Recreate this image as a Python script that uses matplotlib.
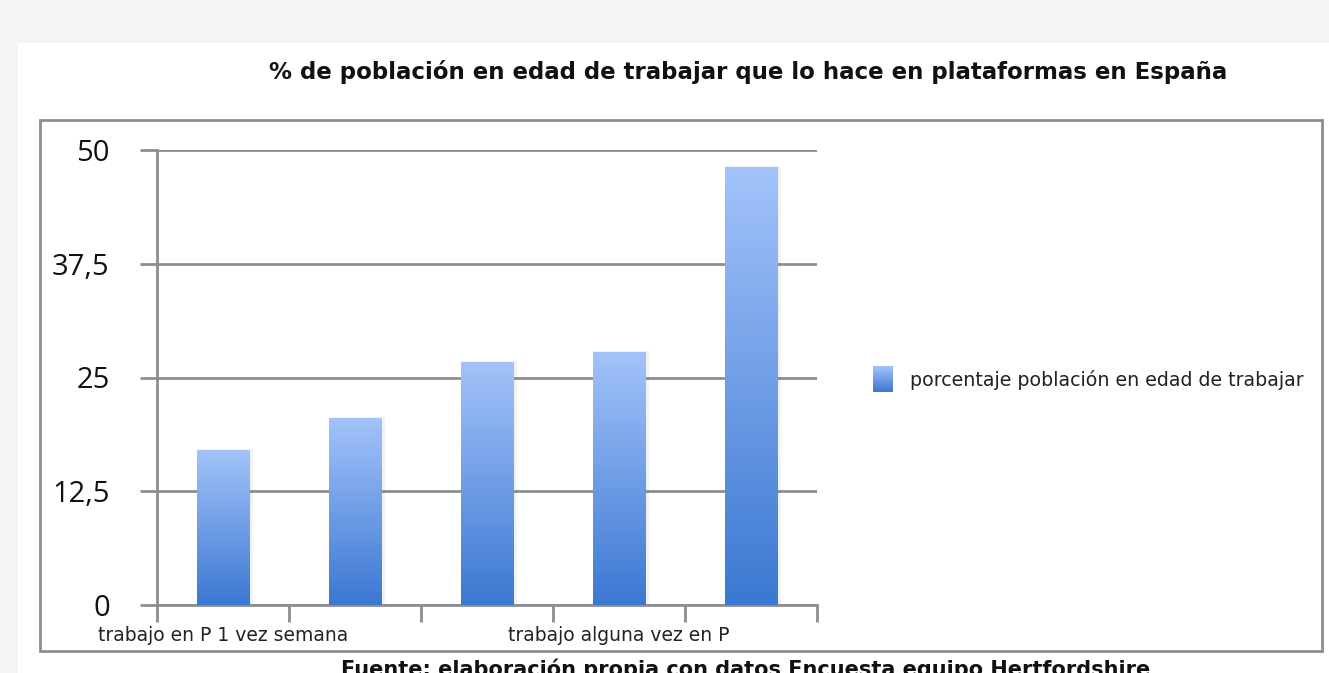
import matplotlib

matplotlib.use("Agg")
import matplotlib.pyplot as plt
import numpy as np
from matplotlib.colors import LinearSegmentedColormap
from matplotlib.patches import Rectangle

W, H = 1329, 673

categories = ["trabajo en P 1 vez semana", "", "", "trabajo alguna vez en P", ""]
values = [17.0, 20.5, 26.7, 27.8, 48.1]
yticks = [0, 12.5, 25, 37.5, 50]
ytick_labels = ["0", "12,5", "25", "37,5", "50"]
series_name = "porcentaje población en edad de trabajar"
title = "% de población en edad de trabajar que lo hace en plataformas en España"
source = "Fuente: elaboración propia con datos Encuesta equipo Hertfordshire"

GRID = "#8e8e8e"
grad = LinearSegmentedColormap.from_list("bar", ["#3b78d2", "#a3c3fa"])


def px(x, y):
    """pixel (from top-left) -> figure fraction"""
    return x / W, 1 - y / H


fig = plt.figure(figsize=(W / 100, H / 100), dpi=100, facecolor="#f4f4f4")

# white panel + chart frame (behind the axes)
fig.patches.append(Rectangle(px(18, 673), (W - 18) / W, (673 - 43) / H,
                             transform=fig.transFigure, facecolor="white",
                             edgecolor="none", zorder=-2))
fig.patches.append(Rectangle(px(40, 651), (1322 - 40) / W, (651 - 120) / H,
                             transform=fig.transFigure, facecolor="none",
                             edgecolor=GRID, lw=2.0, zorder=-1))

l, b = px(157, 605)
ax = fig.add_axes([l, b, (817 - 157) / W, (605 - 150) / H])
ax.set_facecolor("none")
ax.set_zorder(1)

x = np.arange(len(values))
bars = ax.bar(x, values, width=0.4, color="none", zorder=3)
gimg = np.linspace(0, 1, 256).reshape(-1, 1)
for bar in bars:
    x0, y0 = bar.get_x(), bar.get_y()
    w, h = bar.get_width(), bar.get_height()
    # soft shadow
    ax.add_patch(Rectangle((x0 + 0.005, y0), w + 0.02, h + 0.15,
                           facecolor="#000000", alpha=0.05, lw=0, zorder=2))
    ax.imshow(gimg, extent=(x0, x0 + w, y0, y0 + h), origin="lower",
              cmap=grad, aspect="auto", zorder=3)

ax.set_xlim(-0.5, len(values) - 0.5)
ax.set_ylim(0, 50)

ax.set_yticks(yticks)
ax.set_yticklabels(ytick_labels, fontsize=21, family="Open Sans", color="#111111")
ax.grid(axis="y", color=GRID, lw=2.0, zorder=1)
ax.set_axisbelow(True)
ax.tick_params(axis="y", length=12, width=2.0, color=GRID, pad=22)

ax.set_xticks(np.arange(len(values) + 1) - 0.5)
ax.set_xticklabels([])
ax.tick_params(axis="x", length=12, width=2.0, color=GRID)
for i, lab in enumerate(categories):
    if lab:
        ax.text(i, -3.4, lab, ha="center", va="center", fontsize=13.5,
                color="#222222")

for s in ("top", "right"):
    ax.spines[s].set_visible(False)
for s in ("left", "bottom"):
    ax.spines[s].set_color(GRID)
    ax.spines[s].set_linewidth(2.0)

# legend (gradient square + label)
lx, ly = px(873, 392)
lax = fig.add_axes([lx, ly, 20 / W, 26 / H])
lax.imshow(gimg, origin="lower", cmap=grad, aspect="auto")
lax.axis("off")
fig.text(*px(910, 380), series_name, ha="left", va="center", fontsize=13.7,
         color="#222222")

fig.text(*px(748, 72), title, ha="center", va="center", fontsize=16.5,
         fontweight="bold", color="#111111")
fig.text(*px(746, 659), source, ha="center", va="top", fontsize=15,
         fontweight="bold", color="#111111")

fig.savefig("out.png", dpi=100, facecolor=fig.get_facecolor())
